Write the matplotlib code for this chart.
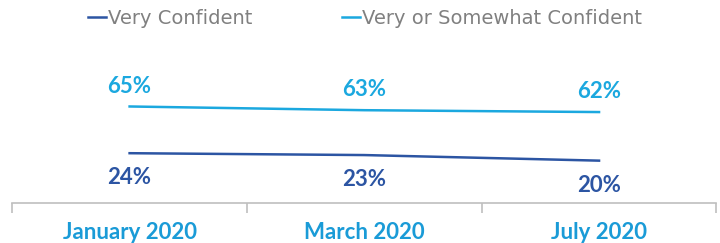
import matplotlib.pyplot as plt
import numpy as np

plt.rcParams['font.family'] = ['Lato', 'DejaVu Sans']

categories = ['January 2020', 'March 2020', 'July 2020']
very_confident = [24, 23, 20]
somewhat_confident = [65, 63, 62]

dark_blue = '#2C55A3'
light_blue = '#1BA8DF'
label_blue = '#1A9BD7'

fig = plt.figure(figsize=(7.2, 2.43), dpi=100)
ax = fig.add_axes([0.017, 0.165, 0.978, 0.56])
# second y scale for the upper series (the original chart spaces the two lines apart)
ax2 = ax.twinx()

x = np.arange(len(categories))
l1, = ax.plot(x, very_confident, color=dark_blue, lw=1.8, label='Very Confident')
l2, = ax2.plot(x, somewhat_confident, color=light_blue, lw=1.8, label='Very or Somewhat Confident')

for xi, v in zip(x, somewhat_confident):
    ax2.annotate(f'{v}%', (xi, v), xytext=(0, 7), textcoords='offset points',
                 ha='center', va='bottom', fontsize=16, fontweight='bold', color=light_blue)
for xi, v in zip(x, very_confident):
    ax.annotate(f'{v}%', (xi, v), xytext=(0, -10), textcoords='offset points',
                ha='center', va='top', fontsize=16, fontweight='bold', color=dark_blue)

ax.set_xlim(-0.5, len(categories) - 0.5)
ax.set_ylim(-2.7, 70.4)
ax2.set_ylim(13.2, 86.3)

for a in (ax, ax2):
    for s in ['top', 'right', 'left']:
        a.spines[s].set_visible(False)
    a.set_yticks([])
ax2.spines['bottom'].set_visible(False)
ax.spines['bottom'].set_color('#BFBFBF')
ax.spines['bottom'].set_linewidth(1.2)

ax.set_xticks(np.arange(-0.5, len(categories), 1.0))
ax.set_xticklabels([])
ax.set_xticks(x, minor=True)
ax.set_xticklabels(categories, minor=True, fontsize=16, fontweight='bold', color=label_blue)
ax.tick_params(axis='x', which='major', length=7, width=1.2, color='#BFBFBF', direction='out')
ax.tick_params(axis='x', which='minor', length=0, pad=14)

fig.legend(handles=[l1, l2], loc='upper center', bbox_to_anchor=(0.507, 1.035), ncol=2,
           frameon=False, prop={'family': 'DejaVu Sans', 'size': 14}, handlelength=0.95,
           handletextpad=0.1, columnspacing=4.6, labelcolor='#808080')

fig.savefig('out.png', dpi=100)
